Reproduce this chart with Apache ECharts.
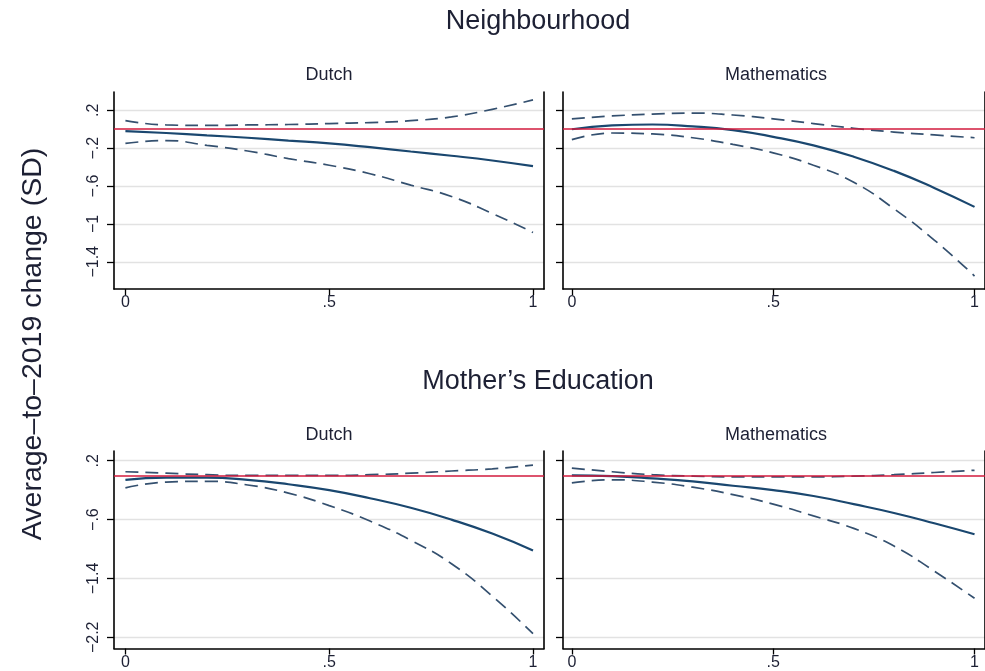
<!DOCTYPE html>
<html>
<head>
<meta charset="utf-8">
<script src="https://cdn.jsdelivr.net/npm/echarts@6/dist/echarts.min.js"></script>
<style>
  html, body { margin: 0; padding: 0; background: #fff; }
  #chart { width: 985px; height: 671px; }
</style>
</head>
<body>
<div id="chart"></div>
<script>
// ---- data ----------------------------------------------------------------
const xs = [0, 0.1, 0.2, 0.3, 0.4, 0.5, 0.6, 0.7, 0.8, 0.9, 1];

const rowTitles = ['Neighbourhood', 'Mother\u2019s Education'];
const colTitles = ['Dutch', 'Mathematics'];
const yAxisTitle = 'Average\u2013to\u20132019 change (SD)';

const xTickValues = [0, 0.5, 1];
const xTickLabels = ['0', '.5', '1'];
const yTickValuesTop = [0.2, -0.2, -0.6, -1, -1.4];
const yTickLabelsTop = ['.2', '\u2212.2', '\u2212.6', '\u22121', '\u22121.4'];
const yTickValuesBottom = [0.2, -0.6, -1.4, -2.2];
const yTickLabelsBottom = ['.2', '\u2212.6', '\u22121.4', '\u22122.2'];

// Neighbourhood – Dutch
const nbDutchEst   = [-0.02, -0.04, -0.065, -0.09, -0.12, -0.15, -0.19, -0.235, -0.28, -0.33, -0.39];
const nbDutchUpper = [0.09, 0.045, 0.04, 0.045, 0.05, 0.06, 0.07, 0.09, 0.13, 0.21, 0.31];
const nbDutchLower = [-0.15, -0.12, -0.17, -0.23, -0.31, -0.38, -0.47, -0.59, -0.71, -0.89, -1.09];

// Neighbourhood – Mathematics
const nbMathEst   = [0.0, 0.04, 0.05, 0.03, -0.01, -0.08, -0.17, -0.29, -0.44, -0.62, -0.82];
const nbMathUpper = [0.11, 0.14, 0.16, 0.17, 0.15, 0.11, 0.06, 0.01, -0.03, -0.06, -0.09];
const nbMathLower = [-0.11, -0.04, -0.05, -0.09, -0.16, -0.25, -0.38, -0.56, -0.84, -1.17, -1.55];

// Mother's Education – Dutch
const meDutchEst   = [-0.06, -0.03, -0.03, -0.06, -0.12, -0.20, -0.31, -0.44, -0.60, -0.79, -1.02];
const meDutchUpper = [0.05, 0.03, 0.01, 0.0, 0.0, 0.0, 0.01, 0.03, 0.06, 0.09, 0.14];
const meDutchLower = [-0.17, -0.09, -0.08, -0.13, -0.24, -0.41, -0.62, -0.88, -1.20, -1.64, -2.15];

// Mother's Education – Mathematics
const meMathEst   = [0.0, -0.01, -0.04, -0.08, -0.14, -0.20, -0.28, -0.39, -0.51, -0.65, -0.80];
const meMathUpper = [0.10, 0.05, 0.01, -0.01, -0.02, -0.02, -0.02, -0.01, 0.01, 0.04, 0.07];
const meMathLower = [-0.10, -0.06, -0.09, -0.16, -0.26, -0.39, -0.55, -0.72, -0.96, -1.30, -1.67];

const referenceLine = 0;

// ---- layout & style ------------------------------------------------------
const FONT = '"Liberation Sans", Arial, Helvetica, sans-serif';
const TEXT = '#1d2034';
const NAVY = '#1a476f';
const DASH_COLOR = '#34506f';
const RED = '#d21a3c';
const GRIDLINE = '#e2e2e2';

const panels = [
  { box: { left: 114, top: 92, width: 430, height: 197 }, xr: [-0.028, 1.027], yr: [-1.687, 0.393],
    yt: yTickValuesTop, yl: yTickLabelsTop, showY: true,
    est: nbDutchEst, up: nbDutchUpper, lo: nbDutchLower },
  { box: { left: 563, top: 92, width: 427, height: 197 }, xr: [-0.022, 1.026], yr: [-1.687, 0.393],
    yt: yTickValuesTop, yl: yTickLabelsTop, showY: false,
    est: nbMathEst, up: nbMathUpper, lo: nbMathLower },
  { box: { left: 114, top: 451, width: 430, height: 197.5 }, xr: [-0.028, 1.027], yr: [-2.352, 0.332],
    yt: yTickValuesBottom, yl: yTickLabelsBottom, showY: true,
    est: meDutchEst, up: meDutchUpper, lo: meDutchLower },
  { box: { left: 563, top: 451, width: 427, height: 197.5 }, xr: [-0.022, 1.026], yr: [-2.352, 0.332],
    yt: yTickValuesBottom, yl: yTickLabelsBottom, showY: false,
    est: meMathEst, up: meMathUpper, lo: meMathLower }
];

function pick(values, labels) {
  return function (v) {
    const i = values.findIndex(t => Math.abs(t - v) < 1e-6);
    return i >= 0 ? labels[i] : '';
  };
}

const pairs = arr => xs.map((x, i) => [x, arr[i]]);

const grid = [], xAxis = [], yAxis = [], series = [];
panels.forEach((p, i) => {
  grid.push(Object.assign({ containLabel: false }, p.box));
  xAxis.push({
    type: 'value', gridIndex: i, min: p.xr[0], max: p.xr[1],
    axisLine: { onZero: false, lineStyle: { color: '#000', width: 1.6 } },
    axisTick: { customValues: xTickValues, length: 6, lineStyle: { color: '#000', width: 1.3 } },
    axisLabel: { customValues: xTickValues, formatter: pick(xTickValues, xTickLabels),
      fontFamily: FONT, fontSize: 16, color: TEXT, margin: 6 },
    splitLine: { show: false }
  });
  yAxis.push({
    type: 'value', gridIndex: i, min: p.yr[0], max: p.yr[1],
    axisLine: { show: true, onZero: false, lineStyle: { color: '#000', width: 1.6 } },
    axisTick: { customValues: p.yt, length: 7, lineStyle: { color: '#000', width: 1.3 } },
    axisLabel: { show: p.showY, customValues: p.yt, formatter: pick(p.yt, p.yl), rotate: 90,
      fontFamily: FONT, fontSize: 16, color: TEXT, margin: 12 },
    splitLine: { show: true, lineStyle: { color: GRIDLINE, width: 1.3 } }
  });
  // right-hand frame of each panel
  yAxis.push({
    type: 'value', gridIndex: i, position: 'right', min: p.yr[0], max: p.yr[1],
    axisLine: { show: true, onZero: false, lineStyle: { color: '#000', width: 1.6 } },
    axisTick: { show: false }, axisLabel: { show: false }, splitLine: { show: false }
  });
  const yi = i * 2;
  const dashed = {
    type: 'line', xAxisIndex: i, yAxisIndex: yi, smooth: true, showSymbol: false, silent: true,
    lineStyle: { color: DASH_COLOR, width: 1.7, type: [13, 7] }, z: 3
  };
  series.push(Object.assign({}, dashed, { data: pairs(p.up) }));
  series.push(Object.assign({}, dashed, { data: pairs(p.lo) }));
  series.push({
    type: 'line', xAxisIndex: i, yAxisIndex: yi, smooth: true, showSymbol: false, silent: true,
    data: pairs(p.est), lineStyle: { color: NAVY, width: 2.2 }, z: 4,
    markLine: {
      silent: true, symbol: ['none', 'none'], label: { show: false },
      lineStyle: { color: RED, width: 1.6, type: 'solid' },
      data: [{ yAxis: referenceLine }]
    }
  });
});

const textStyle = (size) => ({ fontFamily: FONT, fontSize: size, fill: TEXT, textAlign: 'center', textVerticalAlign: 'middle' });

const graphic = [
  { type: 'text', x: 538, y: 22, style: Object.assign({ text: rowTitles[0] }, textStyle(27)) },
  { type: 'text', x: 538, y: 382, style: Object.assign({ text: rowTitles[1] }, textStyle(27)) },
  { type: 'text', x: 329, y: 75, style: Object.assign({ text: colTitles[0] }, textStyle(18)) },
  { type: 'text', x: 776, y: 75, style: Object.assign({ text: colTitles[1] }, textStyle(18)) },
  { type: 'text', x: 329, y: 435, style: Object.assign({ text: colTitles[0] }, textStyle(18)) },
  { type: 'text', x: 776, y: 435, style: Object.assign({ text: colTitles[1] }, textStyle(18)) },
  { type: 'text', x: 33, y: 344, rotation: Math.PI / 2, style: Object.assign({ text: yAxisTitle }, textStyle(28.5)) }
];

const chart = echarts.init(document.getElementById('chart'), null, { renderer: 'canvas' });
chart.setOption({
  animation: false,
  backgroundColor: '#fff',
  grid, xAxis, yAxis, series, graphic
});
</script>
</body>
</html>
